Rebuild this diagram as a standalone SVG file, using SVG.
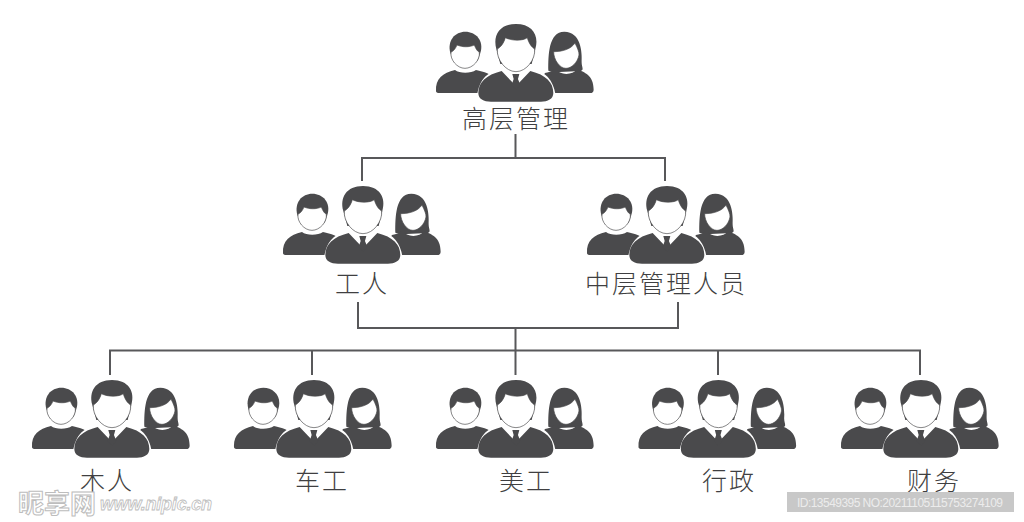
<svg xmlns="http://www.w3.org/2000/svg" width="1024" height="522" viewBox="0 0 1024 522">
<style>
.d{fill:#4a4a4c}
.f{fill:#fff;stroke:#4a4a4c;stroke-width:2}
.w{fill:#fff}
.c{fill:none;stroke:#58585a;stroke-width:2}
.l{font-family:"Noto Sans CJK SC","Noto Sans",sans-serif;font-size:25px;font-weight:300;fill:#3f3f41;text-anchor:middle;letter-spacing:2px}
.m{font-family:"Noto Sans CJK SC",sans-serif;font-size:26px;font-weight:700;fill:#fff;stroke:#bdbdbd;stroke-width:1}
.n{font-family:"Liberation Sans",sans-serif;font-size:18px;font-weight:700;font-style:italic;fill:#fff;stroke:#bdbdbd;stroke-width:.8}
</style>
<defs>
<g id="people" transform="translate(-91.17 -8.33) scale(.3333)">
<path class="d" d="M78 112C68 74 92 48 123 48C154 48 180 74 168 112L160 135L88 135Z"/>
<path class="f" d="M80 110C88 106 94 98 98 88C115 95 135 95 150 88C154 98 158 106 165 110C168 132 146 158 122 158C98 158 77 132 80 110Z"/>
<path class="d" d="M35 226C33 190 55 172 92 163C105 174 140 174 155 163C180 168 200 175 215 190L190 232L45 232C39 232 35 230 35 226Z"/>
<path class="d" d="M372 165C372 120 372 48 420 48C470 48 474 110 472 140C472 155 480 162 470 166L390 170Z"/>
<path class="f" d="M388 108C415 108 440 100 452 82C460 98 465 110 464 118C460 140 442 158 425 158C406 158 388 132 388 108Z"/>
<path class="d" d="M362 172C375 170 388 165 394 158C405 180 445 180 458 160C480 170 508 178 508 222C508 229 504 232 498 232L380 232L345 200Z"/>
<path class="w" d="M156 258C160 205 175 175 225 160L330 160C375 175 392 205 396 258Z"/>
<path class="d" d="M216 100C205 60 225 25 275 25C325 25 345 60 333 100L322 145L228 145Z"/>
<path class="f" d="M219 100C229 94 238 84 243 66C262 76 296 76 309 66C314 84 322 94 331 100C334 130 307 168 275 168C243 168 216 130 219 100Z"/>
<path class="d" d="M162 232C162 200 185 178 232 166L272 208L278 208L318 166C365 178 387 200 387 232C387 250 370 258 350 258L200 258C178 258 162 250 162 232Z"/>
<path class="d" d="M264 175L285 175L281 190L288 208L275 222L262 208L268 190Z"/>
</g>
</defs>
<rect width="1024" height="522" fill="#fff"/>
<g id="connectors">
<path class="c" d="M515.500 134V158M362 181V158H665V181"/>
<path class="c" d="M358 302V328H678V302M515.500 328V375M110 375V350.500H920V375M312 350.500V375M718 350.500V375"/>
</g>
<g id="top"><use href="#people" x="515.500" y="24"/><text class="l" x="516" y="128">高层管理</text></g>
<g id="workers"><use href="#people" x="362.500" y="186"/><text class="l" x="362" y="293">工人</text></g>
<g id="middle"><use href="#people" x="666.500" y="186"/><text class="l" x="666" y="293">中层管理人员</text></g>
<g id="carpenter"><use href="#people" x="111.500" y="380"/><text class="l" x="107" y="490">木人</text></g>
<g id="lathe"><use href="#people" x="313.500" y="380"/><text class="l" x="322" y="490">车工</text></g>
<g id="art"><use href="#people" x="515.500" y="380"/><text class="l" x="526" y="490">美工</text></g>
<g id="admin"><use href="#people" x="718" y="380"/><text class="l" x="729" y="490">行政</text></g>
<g id="finance"><use href="#people" x="920.500" y="380"/><text class="l" x="934" y="490">财务</text></g>
<g id="watermark">
<text class="m" x="18" y="513">昵享网</text>
<text class="n" x="100" y="510" textLength="112">www.nipic.cn</text>
<rect x="787" y="492" width="227" height="20" fill="#c8c8c8"/>
<text x="797" y="506.500" font-family="Liberation Sans,sans-serif" font-size="12px" fill="#ececec" textLength="206">ID:13549395 NO:20211105115753274109</text>
</g>
</svg>
